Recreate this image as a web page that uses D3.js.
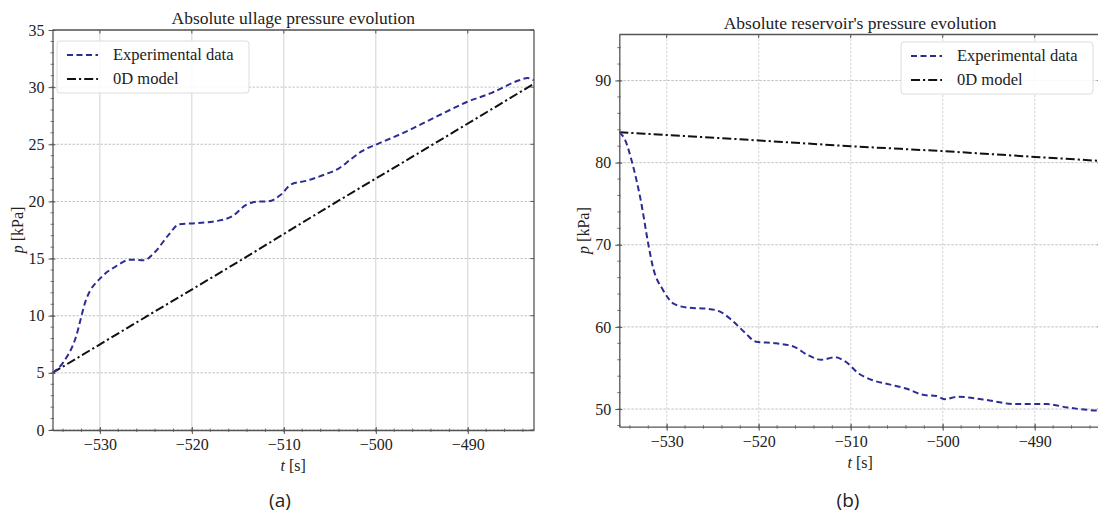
<!DOCTYPE html>
<html>
<head>
<meta charset="utf-8">
<script src="https://cdn.jsdelivr.net/npm/d3@7/dist/d3.min.js"></script>
<style>
  html, body { margin: 0; padding: 0; background: #fff; }
  svg { display: block; }
  .serif { font-family: "Liberation Serif", "DejaVu Serif", serif; fill: #222; }
</style>
</head>
<body>
<svg id="fig" width="1098" height="518"></svg>
<script>
// Time axis shared by both panels [s]
const timeDomain = [-535.15, -482.8];
const timeTicks = [-530, -520, -510, -500, -490];

// Panel (a): ullage pressure [kPa]
const ullageExpT = [-535.15, -534.0, -532.7, -531.5, -529.8, -528.3, -526.7, -525.2, -524.1, -522.5, -521.4, -519.5, -517.2, -515.6, -514.1, -512.6, -511.8, -510.3, -509.2, -507.6, -505.4, -504.0, -502.7, -501.5, -499.6, -497.0, -493.2, -490.1, -487.4, -484.4, -483.5, -482.8];
const ullageExpP = [5.0, 5.9, 7.9, 11.4, 13.4, 14.3, 14.9, 14.85, 15.5, 17.1, 18.0, 18.1, 18.3, 18.7, 19.7, 20.0, 20.0, 20.6, 21.5, 21.8, 22.4, 22.9, 23.7, 24.4, 25.1, 26.0, 27.5, 28.7, 29.5, 30.6, 30.8, 30.6];
const ullageModelT = [-535.15, -525, -515, -505, -495, -482.8];
const ullageModelP = [5.0, 9.9, 14.7, 19.6, 24.4, 30.3];
const ullageTicks = [0, 5, 10, 15, 20, 25, 30, 35];

// Panel (b): reservoir pressure [kPa]
const resExpT = [-535.15, -534.5, -533.8, -532.8, -532.0, -531.5, -530.4, -529.2, -527.7, -525.5, -524.1, -522.9, -521.4, -520.3, -518.1, -516.2, -514.7, -513.2, -511.7, -510.6, -509.1, -507.6, -505.8, -504.0, -502.0, -500.7, -499.8, -498.4, -495.8, -492.1, -488.7, -486.5, -484.3, -482.8];
const resExpP = [83.7, 82.7, 80.2, 75.3, 70.1, 67.3, 64.5, 62.8, 62.35, 62.2, 61.8, 60.8, 59.2, 58.2, 58.0, 57.6, 56.6, 56.0, 56.3, 55.8, 54.3, 53.5, 53.0, 52.5, 51.7, 51.6, 51.2, 51.5, 51.2, 50.6, 50.6, 50.2, 49.9, 49.8];
const resModelT = [-535.15, -520, -510, -500, -490, -482.8];
const resModelP = [83.7, 82.7, 82.0, 81.4, 80.7, 80.2];
const resTicks = [50, 60, 70, 80, 90];

const seriesNames = ["Experimental data", "0D model"];
const expColor = "#2c2c96";
const modelColor = "#111";

const svg = d3.select("#fig");

function zip(ts, ps) { return ts.map((t, i) => ({ t: t, p: ps[i] })); }

function panel(o) {
  const x = d3.scaleLinear().domain(timeDomain).range([o.left, o.right]);
  const y = d3.scaleLinear().domain(o.yDomain).range([o.bottom, o.top]);
  const g = svg.append("g");
  const clipId = "clip-" + o.key;
  svg.append("clipPath").attr("id", clipId).append("rect")
    .attr("x", o.left).attr("y", o.top)
    .attr("width", o.right - o.left).attr("height", o.bottom - o.top);

  // grid
  g.append("g").selectAll("line").data(timeTicks).join("line")
    .attr("x1", d => x(d)).attr("x2", d => x(d))
    .attr("y1", o.top).attr("y2", o.bottom)
    .attr("stroke", "#c8c8c8").attr("stroke-width", 0.8)
    .attr("stroke-dasharray", o.vDash);
  g.append("g").selectAll("line").data(o.yTicks).join("line")
    .attr("x1", o.left).attr("x2", o.right)
    .attr("y1", d => y(d)).attr("y2", d => y(d))
    .attr("stroke", "#b4b4b4").attr("stroke-width", 0.8)
    .attr("stroke-dasharray", "2.5,1.5");

  // series
  const line = d3.line().x(d => x(d.t)).y(d => y(d.p)).curve(d3.curveMonotoneX);
  const plot = g.append("g").attr("clip-path", `url(#${clipId})`);
  plot.append("path").datum(zip(o.modelT, o.modelP))
    .attr("d", line).attr("fill", "none")
    .attr("stroke", modelColor).attr("stroke-width", 2)
    .attr("stroke-dasharray", "9,3,2.2,3");
  plot.append("path").datum(zip(o.expT, o.expP))
    .attr("d", line).attr("fill", "none")
    .attr("stroke", expColor).attr("stroke-width", 2)
    .attr("stroke-dasharray", "6,3.5");

  // axes (major + minor ticks, mirrored inward on top/right)
  const axStyle = a => a.select(".domain").attr("stroke", "#555").attr("stroke-width", 1.3);
  const xMinor = d3.range(-534, -482, 2);
  const yMinor = d3.range(o.yDomain[0] > 0 ? Math.ceil(o.yDomain[0] / o.yMinorStep) * o.yMinorStep : 0, o.yDomain[1], o.yMinorStep);

  const bx = g.append("g").attr("transform", `translate(0,${o.bottom})`)
    .call(d3.axisBottom(x).tickValues(timeTicks).tickSize(4).tickSizeOuter(0).tickPadding(5)
      .tickFormat(d => d3.format("")(d).replace("-", "\u2212")));
  bx.call(axStyle);
  bx.selectAll(".tick line").attr("stroke", "#555").attr("y1", -3);
  bx.selectAll("text").attr("class", "serif").style("font-size", "16px");
  g.append("g").selectAll("line").data(xMinor).join("line")
    .attr("x1", d => x(d)).attr("x2", d => x(d))
    .attr("y1", o.bottom - 1.5).attr("y2", o.bottom + 2)
    .attr("stroke", "#555").attr("stroke-width", 0.8);

  const ly = g.append("g").attr("transform", `translate(${o.left},0)`)
    .call(d3.axisLeft(y).tickValues(o.yTicks).tickSize(4).tickSizeOuter(0).tickPadding(4));
  ly.call(axStyle);
  ly.selectAll(".tick line").attr("stroke", "#555").attr("x1", 3);
  ly.selectAll("text").attr("class", "serif").style("font-size", "16px");
  g.append("g").selectAll("line").data(yMinor).join("line")
    .attr("x1", o.left - 2).attr("x2", o.left + 1.5)
    .attr("y1", d => y(d)).attr("y2", d => y(d))
    .attr("stroke", "#555").attr("stroke-width", 0.8);

  // top and right spines with inward ticks
  g.append("line").attr("x1", o.left).attr("x2", o.right).attr("y1", o.top).attr("y2", o.top)
    .attr("stroke", "#555").attr("stroke-width", 1.3);
  g.append("line").attr("x1", o.right).attr("x2", o.right).attr("y1", o.top).attr("y2", o.bottom)
    .attr("stroke", "#555").attr("stroke-width", 1.3);
  g.append("g").selectAll("line").data(timeTicks).join("line")
    .attr("x1", d => x(d)).attr("x2", d => x(d)).attr("y1", o.top).attr("y2", o.top + 3.5)
    .attr("stroke", "#555");
  g.append("g").selectAll("line").data(o.yTicks).join("line")
    .attr("x1", o.right - 3.5).attr("x2", o.right).attr("y1", d => y(d)).attr("y2", d => y(d))
    .attr("stroke", "#555");

  // title and axis labels
  const cx = (o.left + o.right) / 2;
  g.append("text").attr("class", "serif").attr("x", cx).attr("y", o.top - 6)
    .attr("text-anchor", "middle").style("font-size", "17.5px").text(o.title);
  const xl = g.append("text").attr("class", "serif").attr("x", cx).attr("y", o.bottom + 41)
    .attr("text-anchor", "middle").style("font-size", "16px");
  xl.append("tspan").style("font-style", "italic").text("t");
  xl.append("tspan").text(" [s]");
  const yl = g.append("text").attr("class", "serif")
    .attr("transform", `translate(${o.left - o.ylabOff},${(o.top + o.bottom) / 2}) rotate(-90)`)
    .attr("text-anchor", "middle").style("font-size", "16px");
  yl.append("tspan").style("font-style", "italic").text("p");
  yl.append("tspan").text(" [kPa]");

  // legend
  const lg = g.append("g");
  lg.append("rect").attr("x", o.legX).attr("y", o.legY).attr("width", 192).attr("height", 52)
    .attr("rx", 3).attr("fill", "#fff").attr("fill-opacity", 0.85)
    .attr("stroke", "#ddd").attr("stroke-width", 1);
  const styles = [
    { c: expColor, dash: "6,3.5" },
    { c: modelColor, dash: "9,3,2.2,3" }
  ];
  seriesNames.forEach((name, i) => {
    const yy = o.legY + 14 + i * 24;
    lg.append("line").attr("x1", o.legX + 10).attr("x2", o.legX + 41)
      .attr("y1", yy).attr("y2", yy)
      .attr("stroke", styles[i].c).attr("stroke-width", 2).attr("stroke-dasharray", styles[i].dash);
    lg.append("text").attr("class", "serif").attr("x", o.legX + 56).attr("y", yy + 5)
      .style("font-size", "16.5px").text(name);
  });

  // caption
  svg.append("text").attr("x", o.capX).attr("y", 507).attr("text-anchor", "middle")
    .style("font-family", "'Open Sans', 'Noto Sans', sans-serif").style("font-size", "19px")
    .style("fill", "#222").text(o.caption);
}

panel({
  key: "a", left: 52.5, right: 534, top: 30, bottom: 430,
  yDomain: [0, 35], yTicks: ullageTicks, yMinorStep: 1, vDash: null,
  expT: ullageExpT, expP: ullageExpP, modelT: ullageModelT, modelP: ullageModelP,
  title: "Absolute ullage pressure evolution", ylabOff: 30,
  legX: 57, legY: 41, capX: 280, caption: "(a)"
});

panel({
  key: "b", left: 619.3, right: 1101, top: 34.5, bottom: 426.7,
  yDomain: [47.85, 95.6], yTicks: resTicks, yMinorStep: 2, vDash: "2.5,1.5",
  expT: resExpT, expP: resExpP, modelT: resModelT, modelP: resModelP,
  title: "Absolute reservoir's pressure evolution", ylabOff: 30,
  legX: 901, legY: 42, capX: 848, caption: "(b)"
});
</script>
</body>
</html>
